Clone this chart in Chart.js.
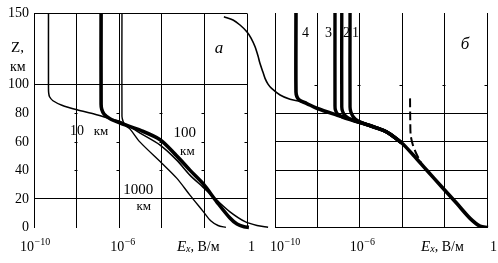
<!DOCTYPE html>
<html>
<head>
<meta charset="utf-8">
<script src="https://cdn.jsdelivr.net/npm/chart.js@4.4.1/dist/chart.umd.min.js"></script>
<style>
  html, body { margin: 0; padding: 0; background: #ffffff; }
  #wrap { position: relative; width: 498px; height: 263px; }
  #wrap canvas { position: absolute; left: 0; top: 0; }
</style>
</head>
<body>
<div id="wrap">
  <canvas id="chart-a" width="498" height="263"></canvas>
  <canvas id="chart-b" width="498" height="263"></canvas>
</div>
<script>
// ===== Data (log10 Ex in V/m, Z in km) =====
const eTicks = [-10, -8, -6, -4, -2, 0];
const zTicksA = [0, 20, 40, 60, 80, 100, 150];
const zTicksB = [0, 20, 40, 60, 80];

// panel а
const a10kmLogE = [-9.32, -9.32, -9.31, -9.27, -9.11, -8.69, -7.98, -7.14, -6.43, -5.87, -5.02, -4.08, -3.30, -2.68, -2.07, -1.42, -0.80, -0.09, 0.47, 0.99];
const a10kmZ    = [150, 97.6, 94.1, 91.6, 88.8, 85.7, 82.5, 79.4, 76.2, 73.8, 66.1, 57.7, 47.2, 36.7, 28.3, 19.2, 11.0, 4.1, 1.4, 0.1];

const a100kmLogE = [-6.85, -6.85, -6.82, -6.71, -6.43, -5.87, -5.02, -4.08, -3.38, -2.68, -2.07, -1.42, -0.80, -0.47, -0.14, 0.09];
const a100kmZ    = [150, 86.4, 82.9, 79.4, 76.2, 72.7, 68.2, 61.5, 51.4, 40.2, 30.8, 18.0, 6.6, 2.4, 0.5, 0.1];

const a1000kmLogE = [-5.87, -5.87, -5.82, -5.73, -5.49, -5.02, -4.00, -3.30, -2.68, -2.07, -1.69, -1.36, -0.99];
const a1000kmZ    = [150, 78.0, 74.5, 71.7, 68.9, 59.8, 45.1, 34.6, 22.7, 11.5, 4.5, 1.4, 0.1];

// panel б
const b4LogE = [-9.01, -9.01, -8.96, -8.82, -8.50, -8.03, -7.09, -6.32, -5.52, -4.73, -4.02, -3.48, -2.85, -2.14, -1.43, -0.80, -0.33, 0.05];
const b4Z    = [150, 94.8, 91.3, 88.8, 86.7, 83.4, 78.7, 75.2, 71.3, 66.8, 59.1, 50.7, 40.2, 28.5, 16.9, 6.4, 1.0, 0];

const b3LogE = [-7.17, -7.17, -7.15, -7.05, -6.79, -6.32, -5.52, -4.73, -4.02];
const b3Z    = [150, 85.0, 82.2, 79.4, 76.9, 74.8, 71.3, 66.8, 59.1];

const b2LogE = [-6.85, -6.85, -6.81, -6.70, -6.46, -5.99, -5.52, -4.73, -4.02];
const b2Z    = [150, 84.3, 81.1, 78.3, 75.9, 73.4, 71.3, 66.8, 59.1];

const b1LogE = [-6.46, -6.46, -6.42, -6.30, -6.08, -5.75, -5.28, -4.73, -4.02];
const b1Z    = [150, 84.3, 80.8, 77.3, 74.5, 72.4, 69.9, 66.8, 59.1];

const bTopLogE = [-12.41, -11.98, -11.65, -11.33, -11.13, -10.94, -10.80, -10.71, -10.57, -10.47, -10.33, -10.16, -9.76, -9.29, -8.82, -8.50, -8.03];
const bTopZ    = [147.4, 145.1, 141.6, 136.9, 132.5, 126.4, 119.9, 114.8, 108.7, 104.3, 100.3, 97.3, 92.7, 89.7, 88.2, 86.5, 83.2];

const bDashLogE = [-3.63, -3.62, -3.60, -3.51, -3.37, -3.21, -3.11];
const bDashZ    = [90.3, 75.2, 64.7, 58.4, 52.8, 47.9, 45.1];

// ===== Style =====
const INK = '#000000';
const SERIF = '"Liberation Serif", "DejaVu Serif", serif';
const PLOT_TOP = 13;
const PLOT_BOTTOM = 227.5;

const pts = (logE, z) => logE.map((v, i) => ({ x: Math.pow(10, v), y: z[i] }));

function txt(ctx, s, x, y, size, style, align) {
  ctx.font = `${style || ''} ${size}px ${SERIF}`;
  ctx.textAlign = align || 'left';
  ctx.textBaseline = 'alphabetic';
  ctx.fillStyle = INK;
  ctx.fillText(s, x, y);
  return ctx.measureText(s).width;
}

function drawPow(ctx, x, y, exp) {
  const w = txt(ctx, '10', x, y, 14);
  txt(ctx, exp, x + w + 0.5, y - 6, 10);
}

function drawEx(ctx, x, y) {
  let w = txt(ctx, 'E', x, y, 15, 'italic');
  w += txt(ctx, 'x', x + w, y + 1, 10, 'italic');
  txt(ctx, ', В/м', x + w, y, 14);
}

function makeScales(zTicks, gridZ, yWidth, showZLabels) {
  return {
    x: {
      type: 'logarithmic',
      afterDataLimits: (s) => { s.min = 1e-10; s.max = 1; },
      afterBuildTicks: (s) => { s.ticks = eTicks.map(v => ({ value: Math.pow(10, v) })); },
      afterFit: (s) => { s.height = 263 - PLOT_BOTTOM; },
      ticks: { display: false },
      grid: { color: INK, lineWidth: 1, drawTicks: false },
      border: { display: false }
    },
    y: {
      min: 0,
      max: 150,
      afterBuildTicks: (s) => { s.ticks = zTicks.map(v => ({ value: v })); },
      afterFit: (s) => { s.width = yWidth; },
      ticks: {
        display: showZLabels,
        color: INK,
        padding: 5,
        font: { family: SERIF, size: 14 }
      },
      grid: {
        color: (c) => (gridZ.includes(c.tick.value) ? INK : 'rgba(0,0,0,0)'),
        lineWidth: 1,
        drawTicks: false
      },
      border: { display: true, color: INK, width: 1 }
    }
  };
}

function baseOptions(padding, scales) {
  return {
    responsive: false,
    animation: false,
    events: [],
    layout: { padding },
    plugins: { legend: { display: false }, tooltip: { enabled: false } },
    elements: {
      point: { radius: 0 },
      line: { tension: 0.3, capBezierPoints: false, borderColor: INK, fill: false }
    },
    scales
  };
}

// small marks on the vertical grid lines
function minorMarks(zList) {
  return {
    id: 'minorMarks',
    beforeDatasetsDraw(chart) {
      const { ctx, scales: { x, y } } = chart;
      ctx.save();
      ctx.strokeStyle = INK;
      ctx.lineWidth = 1;
      eTicks.slice(1).forEach(e => {
        const px = Math.round(x.getPixelForValue(Math.pow(10, e))) + 0.5;
        zList.forEach(z => {
          const py = Math.round(y.getPixelForValue(z)) + 0.5;
          ctx.beginPath();
          ctx.moveTo(px - 3, py);
          ctx.lineTo(px, py);
          ctx.stroke();
        });
      });
      ctx.restore();
    }
  };
}

// ===== Panel а =====
const textA = {
  id: 'textA',
  afterDraw(chart) {
    const { ctx, scales: { x, y } } = chart;
    const px = (e) => x.getPixelForValue(Math.pow(10, e));
    const py = (z) => y.getPixelForValue(z);
    ctx.save();
    txt(ctx, 'Z,', 11, 52, 15);
    txt(ctx, 'км', 10, 71, 14);
    drawPow(ctx, px(-10) - 14, 251, '−10');
    drawPow(ctx, px(-6) - 9, 251, '−6');
    drawEx(ctx, px(-3.29), 251);
    txt(ctx, '1', px(0) + 1, 251, 14);
    txt(ctx, 'а', px(-1.31), py(122.5), 17, 'italic', 'center');
    txt(ctx, '10', px(-7.65), py(64.5), 14, '', 'right');
    txt(ctx, 'км', px(-7.2), py(64.5), 13, '', 'left');
    txt(ctx, '100', px(-2.92), py(63.5), 15, '', 'center');
    txt(ctx, 'км', px(-2.80), py(50.5), 13, '', 'center');
    txt(ctx, '1000', px(-5.1), py(23.5), 15, '', 'center');
    txt(ctx, 'км', px(-4.85), py(12.5), 13, '', 'center');
    ctx.restore();
  }
};

new Chart(document.getElementById('chart-a'), {
  type: 'scatter',
  data: {
    datasets: [
      { data: pts(a10kmLogE, a10kmZ), showLine: true, borderWidth: 1.5, clip: false },
      { data: pts(a100kmLogE, a100kmZ), showLine: true, borderWidth: 3.6, clip: false },
      { data: pts(a1000kmLogE, a1000kmZ), showLine: true, borderWidth: 1.4, clip: false }
    ]
  },
  options: baseOptions(
    { left: 0, right: 498 - 247, top: PLOT_TOP, bottom: 0 },
    makeScales(zTicksA, [20, 100, 150], 34, true)
  ),
  plugins: [minorMarks([40, 60, 80]), textA]
});

// ===== Panel б =====
const textB = {
  id: 'textB',
  afterDraw(chart) {
    const { ctx, scales: { x, y } } = chart;
    const px = (e) => x.getPixelForValue(Math.pow(10, e));
    const py = (z) => y.getPixelForValue(z);
    ctx.save();
    drawPow(ctx, px(-10) - 5, 251, '−10');
    drawPow(ctx, px(-6) - 10, 251, '−6');
    drawEx(ctx, px(-3.11), 251);
    txt(ctx, '1', px(0) + 3, 251, 14);
    txt(ctx, 'б', px(-1.04), py(124.5), 17, 'italic', 'center');
    txt(ctx, '4', px(-8.56), py(133), 14, '', 'center');
    txt(ctx, '3', px(-7.48), py(133), 14, '', 'center');
    txt(ctx, '2', px(-6.63), py(133), 14, '', 'center');
    txt(ctx, '1', px(-6.20), py(133), 14, '', 'center');
    ctx.restore();
  }
};

new Chart(document.getElementById('chart-b'), {
  type: 'scatter',
  data: {
    datasets: [
      { data: pts(b4LogE, b4Z), showLine: true, borderWidth: 3.6 },
      { data: pts(b3LogE, b3Z), showLine: true, borderWidth: 3.4 },
      { data: pts(b2LogE, b2Z), showLine: true, borderWidth: 3.4 },
      { data: pts(b1LogE, b1Z), showLine: true, borderWidth: 3.4 },
      { data: pts(bTopLogE, bTopZ), showLine: true, borderWidth: 1.6, clip: false },
      { data: pts(bDashLogE, bDashZ), showLine: true, borderWidth: 2, borderDash: [9, 4] }
    ]
  },
  options: baseOptions(
    { left: 275, right: 498 - 487, top: PLOT_TOP, bottom: 0 },
    makeScales(zTicksB, zTicksB, 0, false)
  ),
  plugins: [minorMarks([100]), textB]
});
</script>
</body>
</html>
